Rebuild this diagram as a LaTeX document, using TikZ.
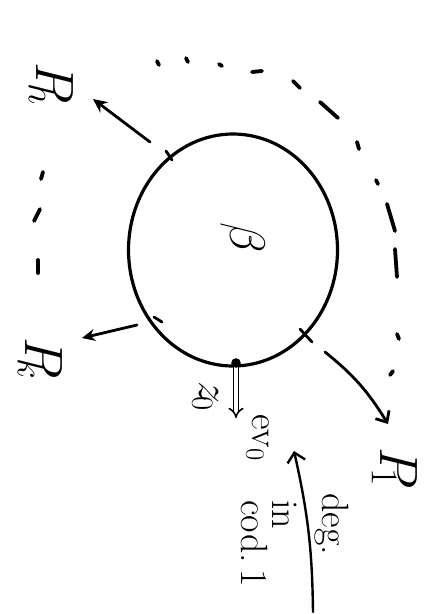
\RequirePackage{fix-cm}
\documentclass[tikz,border=0pt]{standalone}
\usetikzlibrary{arrows.meta,shapes.geometric,bending}
\begin{document}
\begin{tikzpicture}[x=1pt,y=-1pt,
  ink/.style={line width=2.8pt, line cap=round, line join=round},
  dotmark/.style={line width=3.8pt, line cap=round},
  lbl/.style={rotate=-90, inner sep=0pt, anchor=base west},
  bigP/.style={lbl, font=\fontsize{54}{56}\selectfont},
  smalltxt/.style={lbl, font=\fontsize{38}{40}\selectfont},
  arrowline/.style={ink, line width=2.8pt},
]
\useasboundingbox (0,0) rectangle (427,614);

% disc
\node[draw, ellipse, line width=3.2pt, minimum width=209pt, minimum height=232pt, inner sep=0pt] (disc) at (233,250) {};
\node[lbl, font=\fontsize{50}{52}\selectfont] (beta) at (230,222) {$\beta$};

% tick marks on the boundary
\draw[ink] (166,151) -- (172,160);
\draw[ink] (154,317) -- (162,322);
\draw[ink] (300,329) -- (312,342);

% marked point z0 and evaluation
\coordinate (zdot) at (236,363);
\coordinate (evtip) at (236,418);
\draw[line width=1.6pt, double, double distance=3.5pt, -{Implies[scale=1.8]}] (zdot) -- (evtip);
\fill (zdot) circle (4.8pt);
\node[lbl, font=\fontsize{44}{46}\selectfont] (z0) at (199,381) {$z_{\mkern-3mu 0}$};
\node[smalltxt] (ev0) at (252,414) {ev$_0$};

% labels
\node[bigP] (Ph) at (37,62) {$P_{\mkern-6mu h}$};
\node[bigP] (Pk) at (26,337) {$P_{\mkern-6mu k}$};
\node[bigP] (P1) at (380,447) {$P_{\mkern-6mu 1}$};

% arrows to the labels
\coordinate (s1) at (150,142);
\coordinate (e1) at (93,99);
\draw[arrowline, -{Stealth[length=14pt,width=13pt]}] (s1) -- (e1);
\coordinate (s2) at (137,325);
\coordinate (e2) at (82,338);
\draw[arrowline, -{Stealth[length=13pt,width=12pt]}] (s2) -- (e2);
\coordinate (s3) at (325,352);
\coordinate (e3) at (388,424);
\draw[arrowline, -{Straight Barb[length=9pt,width=16pt,flex]}] (s3) to[bend left=10] (e3);

% degeneration arrow
\coordinate (s4) at (313,612);
\coordinate (e4) at (294,451);
\draw[arrowline, line width=2.4pt, -{Straight Barb[length=9pt,width=18pt,flex]}] (s4) to[bend right=6] (e4);
\node[smalltxt] (deg1) at (322,493) {deg.};
\node[smalltxt] (deg2) at (272,500) {in};
\node[smalltxt] (deg3) at (241,500) {cod.\,1};

% dotted / dashed arc of further boundary points
\draw[dotmark] (157,61) -- (159,65);
\draw[dotmark] (186,58) -- (188,62);
\draw[dotmark] (219,64) -- (222,66);
\draw[dotmark] (252,72) -- (262,71);
\draw[dotmark] (293,81) -- (300,88);
\draw[dotmark] (320,102) -- (338,118);
\draw[dotmark] (357,142) -- (359,149);
\draw[dotmark] (376,180) -- (378,184);
\draw[dotmark] (387,204) -- (395,231);
\draw[dotmark] (395,249) -- (397,277);
\draw[dotmark] (397,334) -- (399,339);
\draw[dotmark] (390,375) -- (393,371);
\draw[dotmark] (41,179) -- (43,172);
\draw[dotmark] (34,221) -- (40,209);
\draw[dotmark] (38,260) -- (38,273);
\end{tikzpicture}
\end{document}
